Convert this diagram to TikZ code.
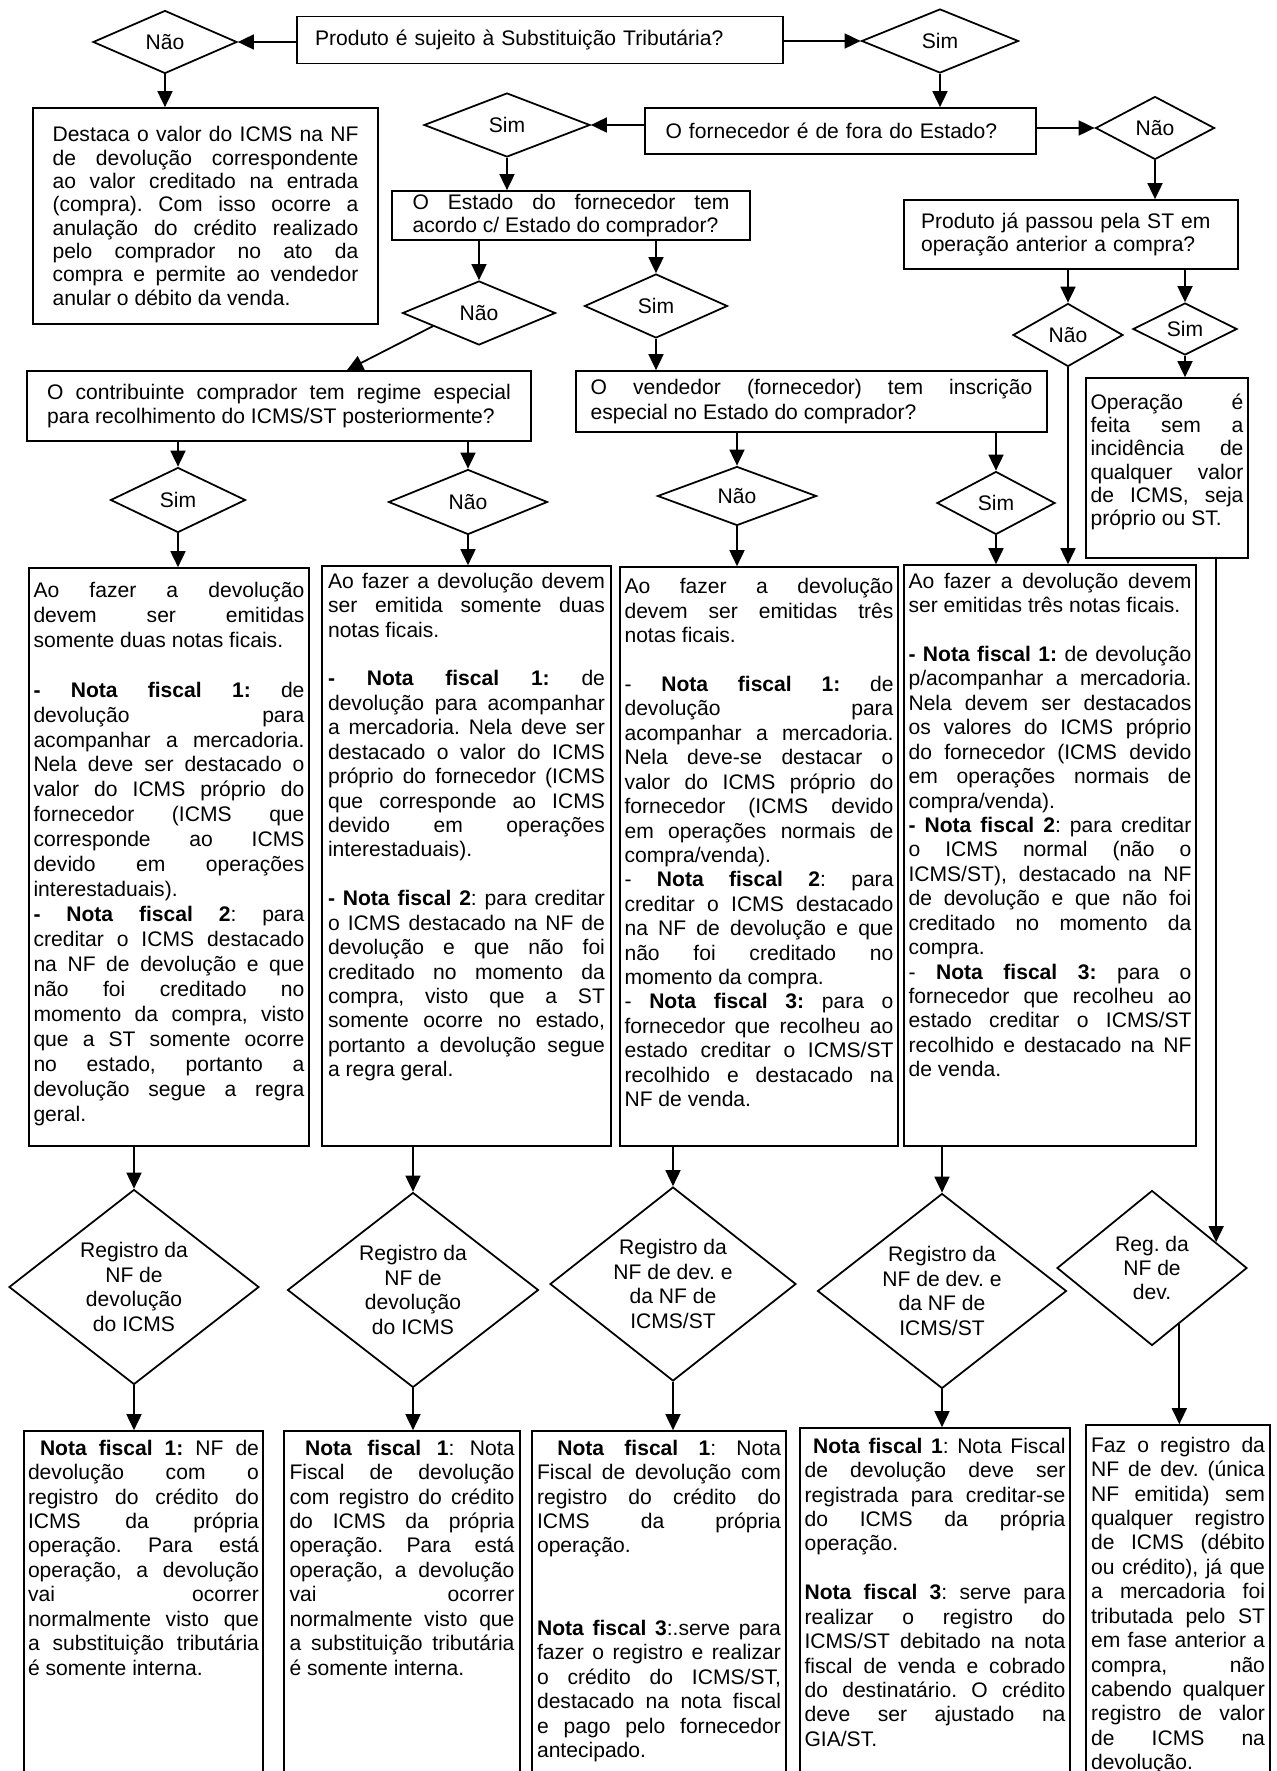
\documentclass[tikz,border=0pt]{standalone}
\usepackage{fontspec}
\setmainfont{Liberation Sans}
\usetikzlibrary{arrows.meta,shapes.geometric}
\tolerance=10000
\hbadness=10000
\hyphenpenalty=10000
\exhyphenpenalty=10000
\frenchspacing

\begin{document}
\begin{tikzpicture}[x=0.02cm,y=-0.02cm,
  font=\fontsize{12}{13.9}\selectfont,
  panel/.style={draw,line width=1pt,inner sep=0pt},
  txt/.style={anchor=north,inner sep=0pt,align=justify},
  choice/.style={diamond,aspect=1.3,draw,line width=1pt,inner sep=0pt,
    align=center},
  flow/.style={-{Triangle[length=0.32cm,width=0.3cm]},line width=1pt}
]
\useasboundingbox (0,0) rectangle (1277,1771);
\clip (0,0) rectangle (1277,1771);

% questions
\node[panel,minimum width=9.72cm,minimum height=0.94cm,text width=9cm,
  align=left] (quest) at (540,40) {Produto é sujeito à Substituição Tributária?};
\node[choice,minimum width=2.88cm,minimum height=1.26cm] (nao1) at (165,42) {Não};
\node[choice,minimum width=3.14cm,minimum height=1.28cm] (sim1) at (940,41) {Sim};
\node[panel,minimum width=6.9cm,minimum height=4.32cm,text width=6.12cm,
  align=justify,font=\fontsize{12}{13.3}\selectfont] (destaca) at (205.5,216)
  {Destaca o valor do ICMS na NF\linebreak de devolução correspondente\linebreak
   ao valor creditado na entrada\linebreak (compra). Com isso ocorre a\linebreak
   anulação do crédito realizado\linebreak pelo comprador no ato da\linebreak
   compra e permite ao vendedor\linebreak anular o débito da venda.};
\node[panel,minimum width=7.82cm,minimum height=0.92cm,text width=7cm,
  align=left] (forn) at (840.5,131) {O fornecedor é de fora do Estado?};
\node[choice,minimum width=3.32cm,minimum height=1.28cm] (sim2) at (507,125) {Sim};
\node[choice,minimum width=2.38cm,minimum height=1.26cm] (nao2) at (1155,128) {Não};
\node[panel,minimum width=7.16cm,minimum height=0.98cm,text width=6.34cm,
  align=justify,font=\fontsize{12}{13.2}\selectfont] (estado) at (571,215.5)
  {O Estado do fornecedor tem\linebreak acordo c/ Estado do comprador?};
\node[panel,minimum width=6.68cm,minimum height=1.38cm,text width=6cm,
  align=left,font=\fontsize{12}{13.2}\selectfont] (prodja) at (1071,234.5)
  {Produto já passou pela ST em\\operação anterior a compra?};
\node[choice,minimum width=3.06cm,minimum height=1.28cm] (nao3) at (479,313) {Não};
\node[choice,minimum width=2.86cm,minimum height=1.28cm] (sim3) at (656,306) {Sim};
\node[choice,minimum width=2.2cm,minimum height=1.26cm] (nao4) at (1068,335) {Não};
\node[choice,minimum width=2.08cm,minimum height=1.04cm] (sim4) at (1185,329) {Sim};
\node[panel,minimum width=10.08cm,minimum height=1.4cm,text width=9.28cm,
  align=justify] (contrib) at (279,406)
  {O contribuinte comprador tem regime especial\linebreak
   para recolhimento do ICMS/ST posteriormente?};
\node[panel,minimum width=9.42cm,minimum height=1.22cm,text width=8.84cm,
  align=justify] (vend) at (811.5,401.5)
  {O vendedor (fornecedor) tem inscrição\linebreak
   especial no Estado do comprador?};
\node[panel,minimum width=3.24cm,minimum height=3.6cm] (oper) at (1167,468) {};
\node[txt,text width=3.06cm,font=\fontsize{12}{13.2}\selectfont] (opertxt)
  at ([yshift=-0.33cm]oper.north)
  {Operação é\linebreak feita sem a\linebreak incidência de\linebreak
   qualquer valor\linebreak de ICMS, seja\linebreak próprio ou ST.};
\node[choice,minimum width=2.7cm,minimum height=1.3cm] (sim5) at (178,500) {Sim};
\node[choice,minimum width=3.18cm,minimum height=1.3cm] (nao5) at (468,502) {Não};
\node[choice,minimum width=3.18cm,minimum height=1.18cm] (nao6) at (737,496) {Não};
\node[choice,minimum width=2.36cm,minimum height=1.26cm] (sim6) at (996,503) {Sim};

% the four cases
\node[panel,minimum width=5.6cm,minimum height=11.56cm] (b1) at (169,857) {};
\node[panel,minimum width=5.78cm,minimum height=11.6cm] (b2) at (466.5,856) {};
\node[panel,minimum width=5.56cm,minimum height=11.58cm] (b3) at (759,856.5) {};
\node[panel,minimum width=5.84cm,minimum height=11.62cm] (b4) at (1050,855.5) {};
\node[txt,text width=5.42cm,font=\fontsize{12}{14.2}\selectfont] (t1)
  at ([yshift=-0.29cm]b1.north)
  {Ao fazer a devolução\linebreak devem ser emitidas\linebreak
   somente duas notas ficais.\par\vspace{14.2pt}
   \textbf{- Nota fiscal 1:} de\linebreak devolução para\linebreak
   acompanhar a mercadoria.\linebreak Nela deve ser destacado o\linebreak
   valor do ICMS próprio do\linebreak fornecedor (ICMS que\linebreak
   corresponde ao ICMS\linebreak devido em operações\linebreak
   interestaduais).\par
   \textbf{- Nota fiscal 2}: para\linebreak creditar o ICMS destacado\linebreak
   na NF de devolução e que\linebreak não foi creditado no\linebreak
   momento da compra, visto\linebreak que a ST somente ocorre\linebreak
   no estado, portanto a\linebreak devolução segue a regra\linebreak geral.};
\node[txt,text width=5.54cm] (t2) at ([yshift=-0.15cm]b2.north)
  {Ao fazer a devolução devem\linebreak ser emitida somente duas\linebreak
   notas ficais.\par\vspace{13.9pt}
   \textbf{- Nota fiscal 1:} de\linebreak devolução para acompanhar\linebreak
   a mercadoria. Nela deve ser\linebreak destacado o valor do ICMS\linebreak
   próprio do fornecedor (ICMS\linebreak que corresponde ao ICMS\linebreak
   devido em operações\linebreak interestaduais).\par\vspace{13.9pt}
   \textbf{- Nota fiscal 2}: para creditar\linebreak o ICMS destacado na NF de\linebreak
   devolução e que não foi\linebreak creditado no momento da\linebreak
   compra, visto que a ST\linebreak somente ocorre no estado,\linebreak
   portanto a devolução segue\linebreak a regra geral.};
\node[txt,text width=5.38cm] (t3) at ([yshift=-0.24cm]b3.north)
  {Ao fazer a devolução\linebreak devem ser emitidas três\linebreak
   notas ficais.\par\vspace{13.9pt}
   - \textbf{Nota fiscal 1:} de\linebreak devolução para\linebreak
   acompanhar a mercadoria.\linebreak Nela deve-se destacar o\linebreak
   valor do ICMS próprio do\linebreak fornecedor (ICMS devido\linebreak
   em operações normais de\linebreak compra/venda).\par
   - \textbf{Nota fiscal 2}: para\linebreak creditar o ICMS destacado\linebreak
   na NF de devolução e que\linebreak não foi creditado no\linebreak
   momento da compra.\par
   - \textbf{Nota fiscal 3:} para o\linebreak fornecedor que recolheu ao\linebreak
   estado creditar o ICMS/ST\linebreak recolhido e destacado na\linebreak
   NF de venda.};
\node[txt,text width=5.66cm] (t4) at ([yshift=-0.17cm]b4.north)
  {Ao fazer a devolução devem\linebreak ser emitidas três notas ficais.\par
   \vspace{13.9pt}
   \textbf{- Nota fiscal 1:} de devolução\linebreak p/acompanhar a mercadoria.\linebreak
   Nela devem ser destacados\linebreak os valores do ICMS próprio\linebreak
   do fornecedor (ICMS devido\linebreak em operações normais de\linebreak
   compra/venda).\par
   \textbf{- Nota fiscal 2}: para creditar\linebreak o ICMS normal (não o\linebreak
   ICMS/ST), destacado na NF\linebreak de devolução e que não foi\linebreak
   creditado no momento da\linebreak compra.\par
   - \textbf{Nota fiscal 3:} para o\linebreak fornecedor que recolheu ao\linebreak
   estado creditar o ICMS/ST\linebreak recolhido e destacado na NF\linebreak
   de venda.};

% registers
\node[choice,minimum width=5cm,minimum height=3.9cm] (d1) at (134,1287)
  {Registro da\\NF de\\devolução\\do ICMS};
\node[choice,minimum width=5.02cm,minimum height=3.9cm] (d2) at (413,1290)
  {Registro da\\NF de\\devolução\\do ICMS};
\node[choice,minimum width=4.92cm,minimum height=3.88cm] (d3) at (673,1284)
  {Registro da\\NF de dev. e\\da NF de\\ICMS/ST};
\node[choice,minimum width=4.98cm,minimum height=3.9cm] (d4) at (942,1291)
  {Registro da\\NF de dev. e\\da NF de\\ICMS/ST};
\node[choice,minimum width=3.8cm,minimum height=3.1cm] (d5) at (1152,1268)
  {Reg. da\\NF de\\dev.};

\node[panel,minimum width=4.78cm,minimum height=7.18cm] (r1) at (143.5,1610.5) {};
\node[panel,minimum width=4.72cm,minimum height=7.18cm] (r2) at (402,1610.5) {};
\node[panel,minimum width=5.08cm,minimum height=7.18cm] (r3) at (659,1610.5) {};
\node[panel,minimum width=5.4cm,minimum height=7.24cm] (r4) at (935,1609) {};
\node[panel,minimum width=3.68cm,minimum height=7.3cm] (r5) at (1178,1607.5) {};
\node[txt,text width=4.62cm] (s1) at ([yshift=-0.19cm]r1.north)
  {~\textbf{Nota fiscal 1:} NF de\linebreak devolução com o\linebreak
   registro do crédito do\linebreak ICMS da própria\linebreak
   operação. Para está\linebreak operação, a devolução\linebreak
   vai ocorrer\linebreak normalmente visto que\linebreak
   a substituição tributária\linebreak é somente interna.};
\node[txt,text width=4.5cm] (s2) at ([yshift=-0.19cm]r2.north)
  {~\textbf{Nota fiscal 1}: Nota\linebreak Fiscal de devolução\linebreak
   com registro do crédito\linebreak do ICMS da própria\linebreak
   operação. Para está\linebreak operação, a devolução\linebreak
   vai ocorrer\linebreak normalmente visto que\linebreak
   a substituição tributária\linebreak é somente interna.};
\node[txt,text width=4.88cm] (s3) at ([yshift=-0.19cm]r3.north)
  {~\textbf{Nota fiscal 1}: Nota\linebreak Fiscal de devolução com\linebreak
   registro do crédito do\linebreak ICMS da própria\linebreak
   operação.\par\vspace{33pt}
   \textbf{Nota fiscal 3}:.serve para\linebreak fazer o registro e realizar\linebreak
   o crédito do ICMS/ST,\linebreak destacado na nota fiscal\linebreak
   e pago pelo fornecedor\linebreak antecipado.};
\node[txt,text width=5.22cm] (s4) at ([yshift=-0.21cm]r4.north)
  {~\textbf{Nota fiscal 1}: Nota Fiscal\linebreak de devolução deve ser\linebreak
   registrada para creditar-se\linebreak do ICMS da própria\linebreak
   operação.\par\vspace{13.9pt}
   \textbf{Nota fiscal 3}: serve para\linebreak realizar o registro do\linebreak
   ICMS/ST debitado na nota\linebreak fiscal de venda e cobrado\linebreak
   do destinatário. O crédito\linebreak deve ser ajustado na\linebreak GIA/ST.};
\node[txt,text width=3.48cm] (s5) at ([yshift=-0.25cm]r5.north)
  {Faz o registro da\linebreak NF de dev. (única\linebreak NF emitida) sem\linebreak
   qualquer registro\linebreak de ICMS (débito\linebreak ou crédito), já que\linebreak
   a mercadoria foi\linebreak tributada pelo ST\linebreak em fase anterior a\linebreak
   compra, não\linebreak cabendo qualquer\linebreak registro de valor\linebreak
   de ICMS na\linebreak devolução.};

% connectors
\draw[flow] (quest.west |- nao1.east) -- (nao1.east);
\draw[flow] (quest.east |- sim1.west) -- (sim1.west);
\draw[flow] (nao1.south) -- (nao1.south |- destaca.north);
\draw[flow] (sim1.south) -- (sim1.south |- forn.north);
\draw[flow] (forn.west |- sim2.east) -- (sim2.east);
\draw[flow] (forn.east |- nao2.west) -- (nao2.west);
\draw[flow] (sim2.south) -- (sim2.south |- estado.north);
\draw[flow] (nao2.south) -- (nao2.south |- prodja.north);
\draw[flow] (nao3.north |- estado.south) -- (nao3.north);
\draw[flow] (sim3.north |- estado.south) -- (sim3.north);
\draw[flow] (nao4.north |- prodja.south) -- (nao4.north);
\draw[flow] (sim4.north |- prodja.south) -- (sim4.north);
\draw[flow] (nao3.196) -- ([xshift=1.36cm]contrib.north);
\draw[flow] (sim3.south) -- (sim3.south |- vend.north);
\draw[flow] (sim4.south) -- (sim4.south |- oper.north);
\draw[flow] (nao4.south) -- (nao4.south |- b4.north);
\draw[flow] (sim5.north |- contrib.south) -- (sim5.north);
\draw[flow] (nao5.north |- contrib.south) -- (nao5.north);
\draw[flow] (nao6.north |- vend.south) -- (nao6.north);
\draw[flow] (sim6.north |- vend.south) -- (sim6.north);
\draw[flow] (sim5.south) -- (sim5.south |- b1.north);
\draw[flow] (nao5.south) -- (nao5.south |- b2.north);
\draw[flow] (nao6.south) -- (nao6.south |- b3.north);
\draw[flow] (sim6.south) -- (sim6.south |- b4.north);
\draw[flow] (d1.north |- b1.south) -- (d1.north);
\draw[flow] (d2.north |- b2.south) -- (d2.north);
\draw[flow] (d3.north |- b3.south) -- (d3.north);
\draw[flow] (d4.north |- b4.south) -- (d4.north);
\draw[flow] (oper.south -| d5.22) -- (d5.22);
\draw[flow] (d1.south) -- (d1.south |- r1.north);
\draw[flow] (d2.south) -- (d2.south |- r2.north);
\draw[flow] (d3.south) -- (d3.south |- r3.north);
\draw[flow] (d4.south) -- (d4.south |- r4.north);
\draw[flow] (d5.296) -- (d5.296 |- r5.north);
\end{tikzpicture}
\end{document}
